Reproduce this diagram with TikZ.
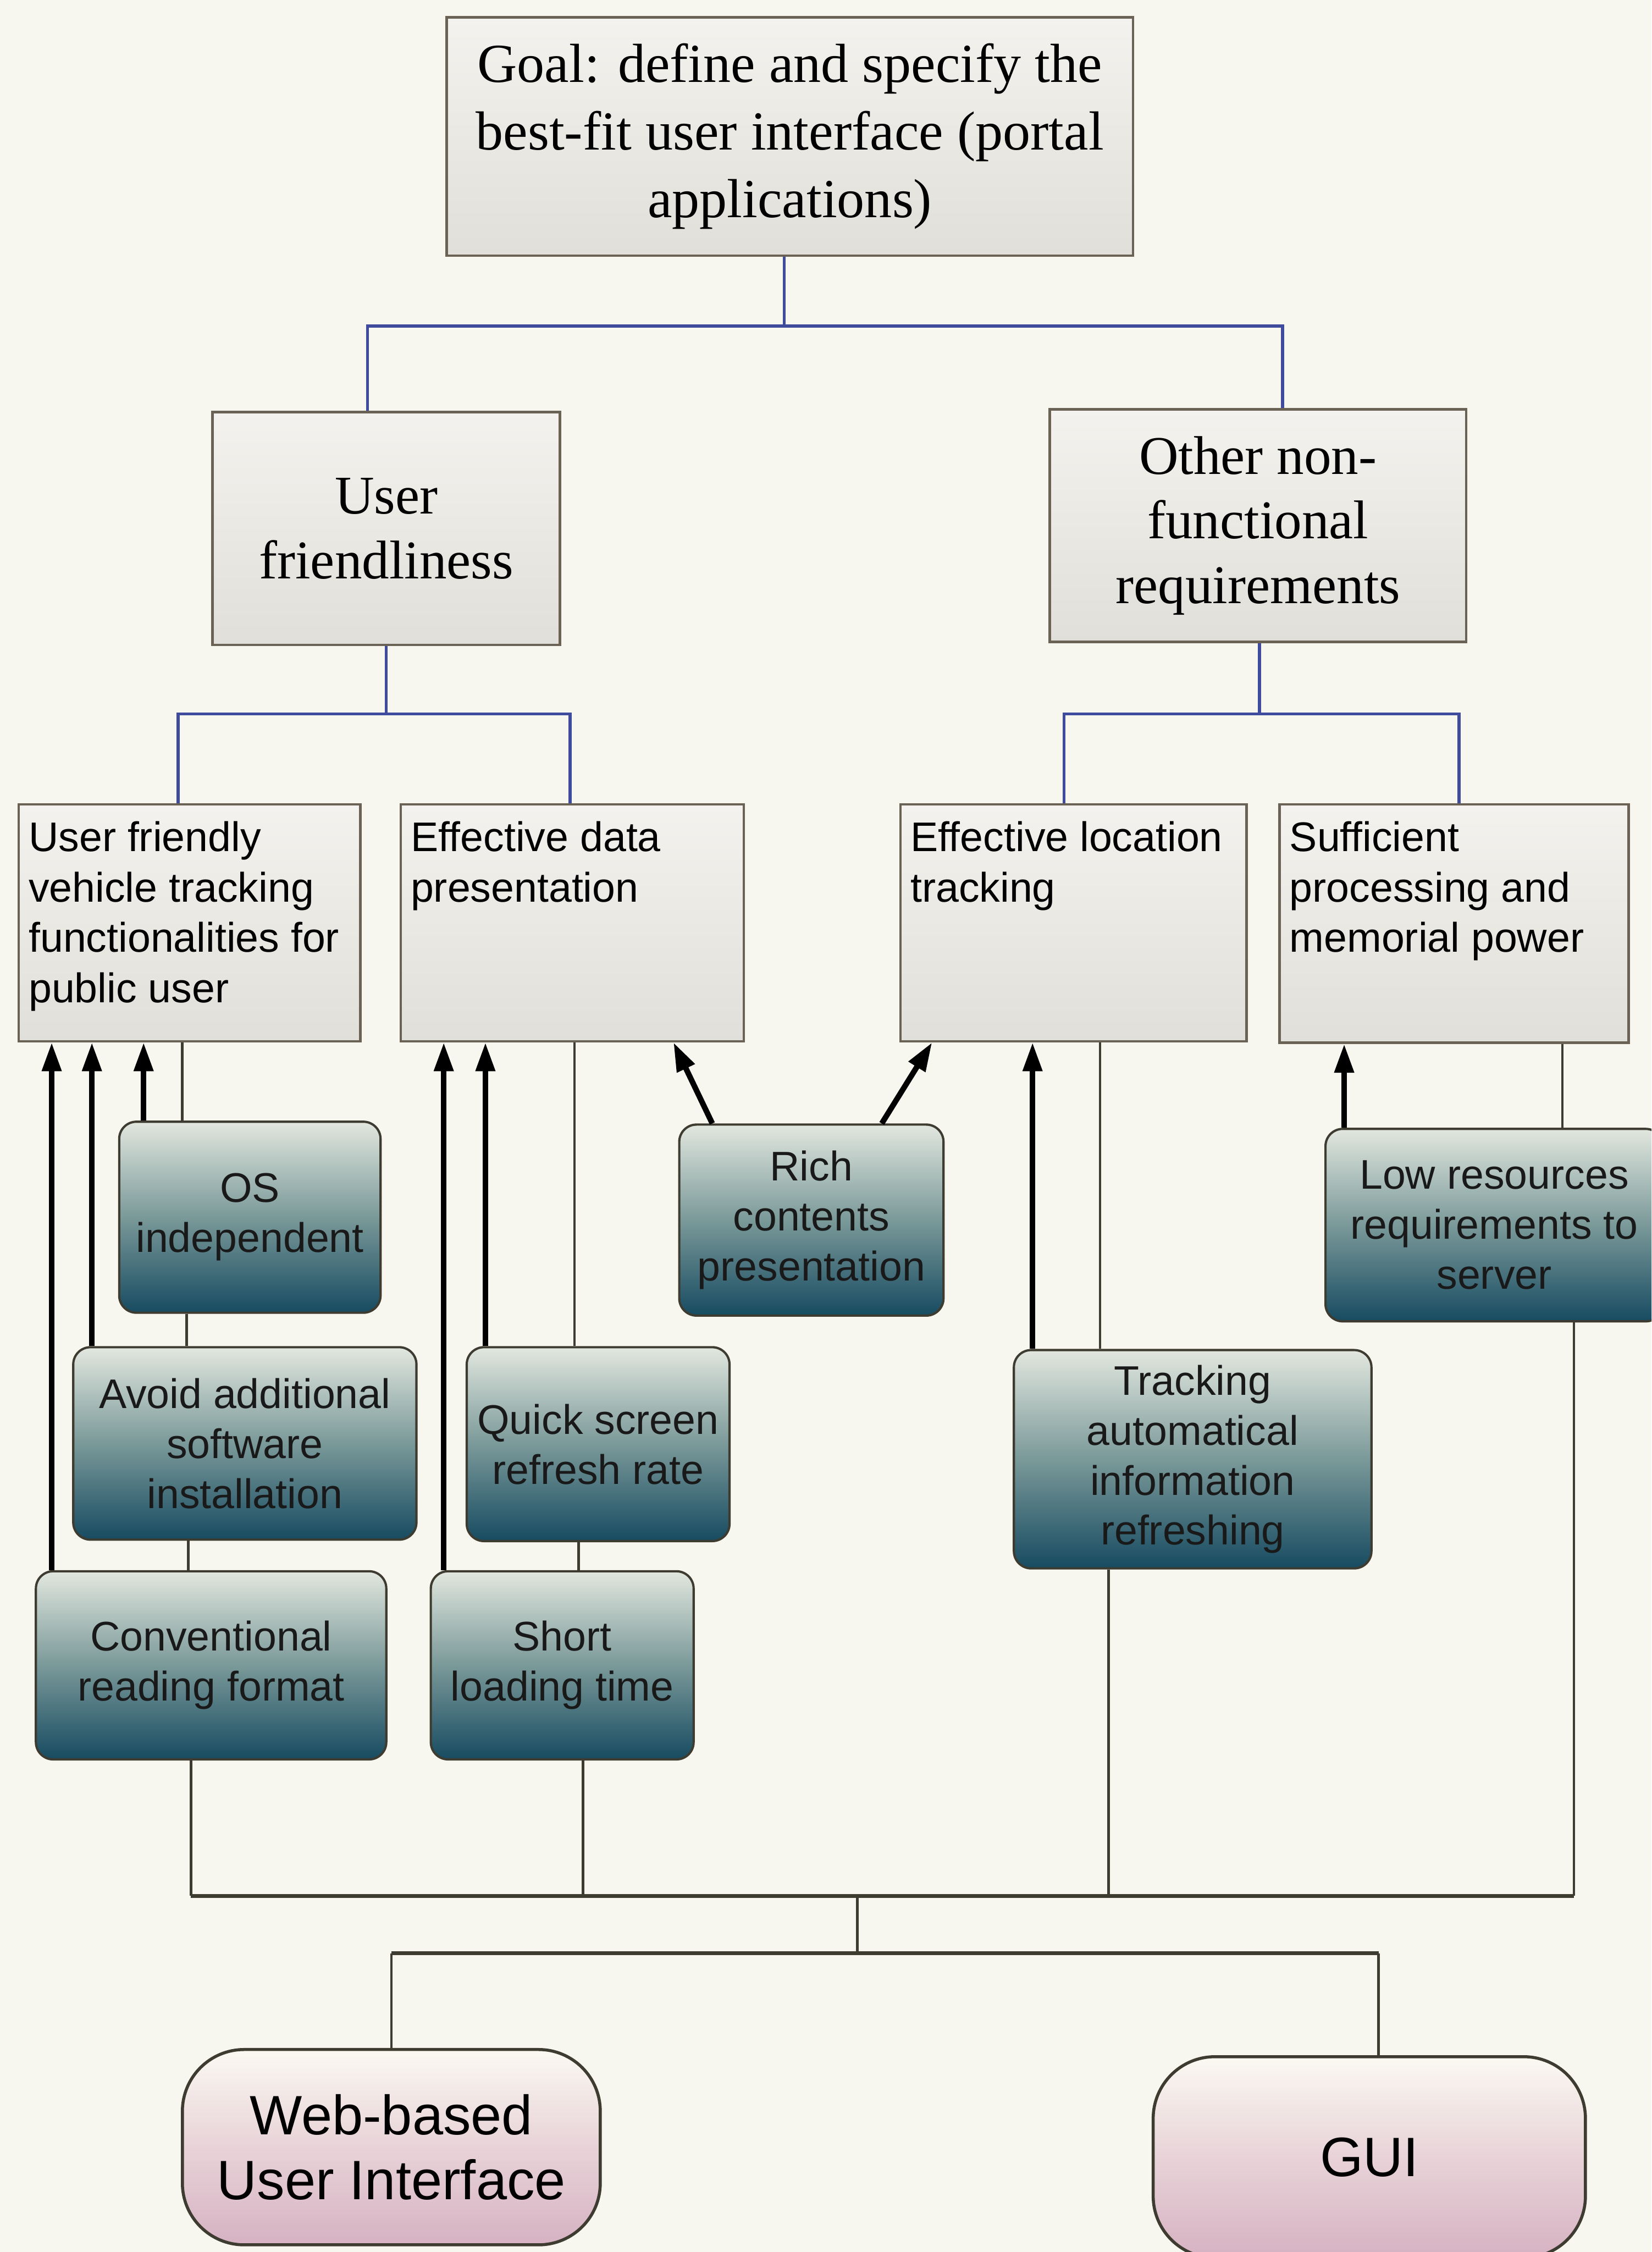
\documentclass[tikz,border=0pt]{standalone}
\usepackage{fontspec}
\setmainfont{Liberation Serif}
\setsansfont{Liberation Sans}
\usetikzlibrary{arrows.meta}

\definecolor{paper}{HTML}{F7F6EF}
\definecolor{boxtop}{HTML}{F3F2EE}
\definecolor{boxbot}{HTML}{E1DFD9}
\definecolor{boxline}{HTML}{6A6355}
\definecolor{treeblue}{HTML}{3F4C9E}
\definecolor{gtop}{HTML}{E2E7DF}
\definecolor{gmid}{HTML}{7A9999}
\definecolor{gbot}{HTML}{174B61}
\definecolor{ptop}{HTML}{FBF9F2}
\definecolor{pmid}{HTML}{E8D3D8}
\definecolor{pbot}{HTML}{D6B2C2}
\definecolor{wirecol}{HTML}{3E3B30}

% text block pinned to the top-left corner of a requirement box
\newcommand{\boxtext}[3]{\parbox[c][#1][t]{#2}{\raggedright #3}}

\tikzset{
  goalbox/.style={draw=boxline, line width=0.5pt, top color=boxtop, bottom color=boxbot,
    inner sep=0pt, align=center, font=\fontsize{10.9}{13.4}\selectfont},
  midbox/.style={draw=boxline, line width=0.5pt, top color=boxtop, bottom color=boxbot,
    inner sep=0pt, align=center, font=\fontsize{10.8}{12.8}\selectfont},
  reqbox/.style={draw=boxline, line width=0.5pt, top color=boxtop, bottom color=boxbot,
    inner xsep=0.7mm, inner ysep=1.2mm, font=\sffamily\fontsize{8.2}{9.96}\selectfont},
  leaf/.style={draw=wirecol, line width=0.45pt, rounded corners=1.2mm,
    top color=gtop, bottom color=gbot, middle color=gmid,
    inner sep=0pt, align=center, text=black!90,
    font=\sffamily\fontsize{8.2}{9.9}\selectfont},
  uibox/.style={draw=wirecol, line width=0.6pt, rounded corners=4.3mm,
    top color=ptop, bottom color=pbot, middle color=pmid,
    inner sep=0pt, align=center, font=\sffamily\fontsize{11}{12.8}\selectfont},
  tree/.style={draw=treeblue, line width=0.6pt},
  wire/.style={draw=wirecol, line width=0.5pt},
  bus/.style={draw=wirecol, line width=0.8pt},
  arr/.style={draw=black, line width=1.1pt, -{Triangle[length=2mm,width=1.3mm]}},
}

\begin{document}
\begin{tikzpicture}[x=0.1mm, y=-0.1mm]
\useasboundingbox (0,0) rectangle (1150,1568);
\clip (0,0) rectangle (1150,1568);
\fill[paper] (0,0) rectangle (1150,1568);

% goal and the two quality groups
\node[goalbox, minimum width=47.8mm, minimum height=16.6mm] (goal) at (550,95)
  {Goal: define and specify the\\best-fit user interface (portal\\applications)};
\node[midbox, minimum width=24.2mm, minimum height=16.2mm] (uf) at (269,368)
  {User\\friendliness};
\node[midbox, minimum width=29mm, minimum height=16.2mm] (onf) at (876,366)
  {Other non-\\functional\\requirements};

% requirement boxes
\node[reqbox, minimum width=23.8mm, minimum height=16.5mm] (req1) at (132,642.5)
  {\boxtext{14.1mm}{22.4mm}{User friendly\\vehicle tracking\\functionalities for\\public user}};
\node[reqbox, minimum width=23.9mm, minimum height=16.5mm] (req2) at (398.5,642.5)
  {\boxtext{14.1mm}{22.5mm}{Effective data\\presentation}};
\node[reqbox, minimum width=24.1mm, minimum height=16.5mm] (req3) at (747.5,642.5)
  {\boxtext{14.1mm}{22.7mm}{Effective location\\tracking}};
\node[reqbox, minimum width=24.3mm, minimum height=16.6mm] (req4) at (1012.5,643)
  {\boxtext{14.2mm}{22.9mm}{Sufficient\\processing and\\memorial power}};

% design criteria
\node[leaf, minimum width=18.2mm, minimum height=13.3mm] (os) at (174,847.5)
  {OS\\independent};
\node[leaf, minimum width=23.9mm, minimum height=13.4mm] (avoid) at (170.5,1005)
  {Avoid additional\\software\\installation};
\node[leaf, minimum width=24.4mm, minimum height=13.1mm] (conv) at (147,1159.5)
  {Conventional\\reading format};
\node[leaf, minimum width=18.3mm, minimum height=13.5mm] (quick) at (416.5,1005.5)
  {Quick screen\\refresh rate};
\node[leaf, minimum width=18.3mm, minimum height=13.1mm] (short) at (391.5,1159.5)
  {Short\\loading time};
\node[leaf, minimum width=18.4mm, minimum height=13.3mm] (rich) at (565,849.5)
  {Rich\\contents\\presentation};
\node[leaf, minimum width=24.9mm, minimum height=15.2mm] (auto) at (830.5,1016)
  {Tracking\\automatical\\information\\refreshing};
\node[leaf, minimum width=23.5mm, minimum height=13.4mm] (lowres) at (1040.5,853)
  {Low resources\\requirements to\\server};

% candidate interfaces
\node[uibox, minimum width=29.1mm, minimum height=13.6mm] (web) at (272.5,1495)
  {Web-based\\User Interface};
\node[uibox, minimum width=30.1mm, minimum height=14mm] (gui) at (953.5,1502)
  {GUI};

% decomposition tree
\coordinate (j0) at (546,227);
\coordinate (j1) at (269,497);
\coordinate (j2) at (877,497);
\draw[tree] (goal.south -| j0) -- (j0);
\draw[tree] (uf.north -| 256,0) |- (j0) -| (onf.north -| 893,0);
\draw[tree] (uf.south) -- (j1);
\draw[tree] (req1.north -| 124,0) |- (j1) -| (req2.north -| 397,0);
\draw[tree] (onf.south -| j2) -- (j2);
\draw[tree] (req3.north -| 741,0) |- (j2) -| (req4.north -| 1016,0);

% contributions of the criteria
\draw[arr] (conv.north -| 36,0) -- (req1.south -| 36,0);
\draw[arr] (avoid.north -| 64,0) -- (req1.south -| 64,0);
\draw[arr] (os.north -| 100,0) -- (req1.south -| 100,0);
\draw[arr] (short.north -| 309,0) -- (req2.south -| 309,0);
\draw[arr] (quick.north -| 338,0) -- (req2.south -| 338,0);
\draw[arr] (rich.north -| 496,0) -- (req2.south -| 469,0);
\draw[arr] (rich.north -| 614,0) -- (req3.south -| 649,0);
\draw[arr] (auto.north -| 719,0) -- (req3.south -| 719,0);
\draw[arr] (lowres.north -| 936,0) -- (req4.south -| 936,0);

% threads down through the criteria
\draw[wire] (req1.south -| 127,0) -- (os.north -| 127,0);
\draw[wire] (os.south -| 130,0) -- (avoid.north -| 130,0);
\draw[wire] (avoid.south -| 131,0) -- (conv.north -| 131,0);
\draw[wire] (req2.south -| 400,0) -- (quick.north -| 400,0);
\draw[wire] (quick.south -| 403,0) -- (short.north -| 403,0);
\draw[wire] (req3.south -| 766,0) -- (auto.north -| 766,0);
\draw[wire] (req4.south -| 1088,0) -- (lowres.north -| 1088,0);

% collecting bus and the two alternatives
\coordinate (busL) at (133,1320);
\coordinate (busB) at (406,1320);
\coordinate (busM) at (597,1320);
\coordinate (busC) at (772,1320);
\coordinate (busR) at (1096,1320);
\coordinate (uiM) at (597,1360);
\coordinate (uiL) at (272.5,1360);
\coordinate (uiR) at (960,1360);
\draw[wire] (conv.south -| busL) -- (busL);
\draw[wire] (short.south -| busB) -- (busB);
\draw[wire] (auto.south -| busC) -- (busC);
\draw[wire] (lowres.south -| busR) -- (busR);
\draw[bus] (busL) -- (busR);
\draw[wire] (busM) -- (uiM);
\draw[bus] (uiL) -- (uiR);
\draw[wire] (web.north) -- (uiL);
\draw[wire] (gui.north -| uiR) -- (uiR);
\end{tikzpicture}
\end{document}
